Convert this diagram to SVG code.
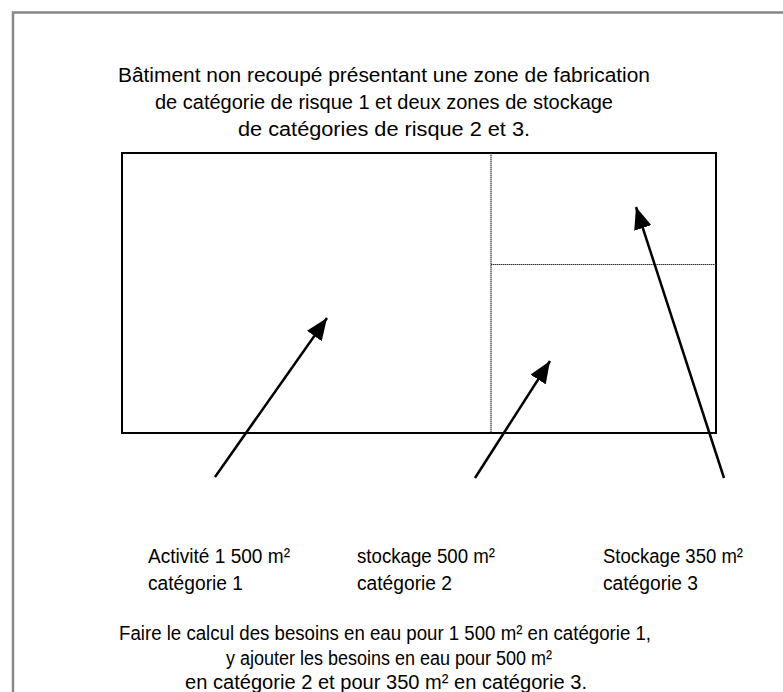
<svg xmlns="http://www.w3.org/2000/svg" width="783" height="692" viewBox="0 0 783 692">
<style>
text{font-family:"Liberation Sans",Arial,sans-serif;font-size:20px;fill:#000}
.c{text-anchor:middle}
.arrow{stroke:#000;stroke-width:2.5;fill:none;marker-end:url(#ah)}
.div{stroke:#333;stroke-width:1.2;stroke-dasharray:1.5 0.5}
</style>
<defs>
<marker id="ah" markerUnits="userSpaceOnUse" markerWidth="24" markerHeight="18" refX="22" refY="9" orient="auto">
<path d="M0,0 L22,9 L0,18 Z" fill="#000"/>
</marker>
</defs>
<rect width="783" height="692" fill="#fff"/>
<path d="M13,692 V12.5 H783" fill="none" stroke="#888" stroke-width="2.5"/>
<g id="title">
<text class="c" x="384" y="82" textLength="532" lengthAdjust="spacingAndGlyphs">Bâtiment non recoupé présentant une zone de fabrication</text>
<text class="c" x="384" y="109" textLength="458" lengthAdjust="spacingAndGlyphs">de catégorie de risque 1 et deux zones de stockage</text>
<text class="c" x="384" y="136" textLength="292" lengthAdjust="spacingAndGlyphs">de catégories de risque 2 et 3.</text>
</g>
<g id="building">
<rect x="122" y="153" width="594" height="280" fill="none" stroke="#000" stroke-width="2"/>
<line class="div" x1="491" y1="153" x2="491" y2="433"/>
<line class="div" x1="491" y1="264.5" x2="716" y2="264.5"/>
</g>
<g id="connectors">
<line class="arrow" x1="215" y1="477" x2="327" y2="318"/>
<line class="arrow" x1="475" y1="478" x2="550" y2="361"/>
<line class="arrow" x1="724" y1="478" x2="636" y2="207"/>
</g>
<g id="label1">
<text x="148" y="563" textLength="142" lengthAdjust="spacingAndGlyphs">Activité 1 500 m²</text>
<text x="148" y="590" textLength="95" lengthAdjust="spacingAndGlyphs">catégorie 1</text>
</g>
<g id="label2">
<text x="357" y="563" textLength="138" lengthAdjust="spacingAndGlyphs">stockage 500 m²</text>
<text x="357" y="590" textLength="95" lengthAdjust="spacingAndGlyphs">catégorie 2</text>
</g>
<g id="label3">
<text x="603" y="563" textLength="140" lengthAdjust="spacingAndGlyphs">Stockage 350 m²</text>
<text x="603" y="590" textLength="95" lengthAdjust="spacingAndGlyphs">catégorie 3</text>
</g>
<g id="note">
<text class="c" x="385" y="640" textLength="532" lengthAdjust="spacingAndGlyphs">Faire le calcul des besoins en eau pour 1 500 m² en catégorie 1,</text>
<text class="c" x="389" y="665" textLength="326" lengthAdjust="spacingAndGlyphs">y ajouter les besoins en eau pour 500 m²</text>
<text class="c" x="386" y="689" textLength="402" lengthAdjust="spacingAndGlyphs">en catégorie 2 et pour 350 m² en catégorie 3.</text>
</g>
</svg>
